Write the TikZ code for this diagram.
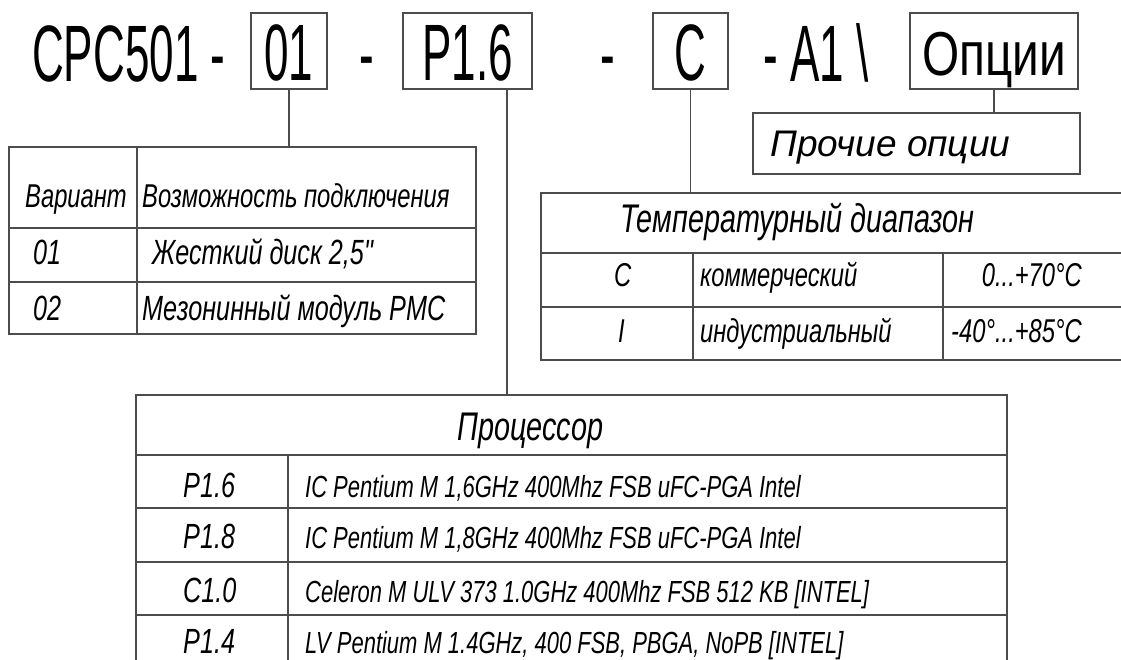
\documentclass[tikz,border=0pt]{standalone}
\usepackage{fontspec}
\setmainfont{Liberation Sans}
\newfontfamily\titlefont[FakeStretch=0.55]{Liberation Sans}
\newfontfamily\optfont[FakeStretch=0.77]{Liberation Sans}
\newfontfamily\narrowfont[FakeStretch=0.72]{Liberation Sans}

\begin{document}
\begin{tikzpicture}[
  x=1pt,y=-1pt,
  frame/.style={draw=black!70,line width=1.2pt},
  divider/.style={draw=black!70,line width=1.2pt},
  codebox/.style={frame,minimum width=#1,minimum height=76pt,inner xsep=0pt,
                  inner ysep=8pt,text height=60pt,text depth=0pt,
                  font=\titlefont\fontsize{80}{80}\selectfont},
  headtext/.style={anchor=base west,inner sep=0pt,
                   font=\titlefont\fontsize{80}{80}\selectfont},
  tab/.style={frame,inner sep=0pt},
  cell/.style={anchor=base west,inner sep=0pt,
               font=\narrowfont\itshape\fontsize{#1}{#1}\selectfont},
  cellr/.style={cell=#1,anchor=base east},
]
\useasboundingbox (0,0) rectangle (1121,660);

% ---- order code line ----
\node[headtext] (cpc) at (32,82) {CPC501 -};
\node[codebox=76pt] (b01) at (289,51) {01};
\node[headtext] (d1) at (359,82) {-};
\node[codebox=129pt] (bp16) at (467.5,51) {P1.6};
\node[headtext] (d2) at (600,82) {-};
\node[codebox=75pt] (bc) at (690.5,51) {C};
\node[headtext] (a1) at (763,82) {- A1 \textbackslash};
\node[codebox=168pt,text height=55pt,text depth=5pt,
      font=\optfont\fontsize{62}{62}\selectfont] (bopt) at (994,51) {Опции};

% ---- other options ----
\node[tab,minimum width=327pt,minimum height=61pt] (other) at (916.5,143.5) {};
\node[anchor=base west,inner sep=0pt,font=\itshape\fontsize{37}{37}\selectfont]
     (othertxt) at (770,157) {Прочие опции};

% ---- variant table ----
\node[tab,minimum width=467pt,minimum height=187pt] (tvar) at (242.5,240.5) {};
\draw[divider] (9,228) -- (476,228) (9,282) -- (476,282) (137,147) -- (137,334);
\node[cell=33] (vh1) at (25,208) {Вариант};
\node[cell=33] (vh2) at (142,208) {Возможность подключения};
\node[cell=35] (v1) at (33,265) {01};
\node[cell=35] (v1t) at (152,265) {Жесткий диск 2,5"};
\node[cell=35] (v2) at (33,320) {02};
\node[cell=35] (v2t) at (142,320) {Мезонинный модуль PMC};

% ---- temperature table ----
\node[tab,minimum width=584pt,minimum height=167pt] (ttemp) at (833,276.5) {};
\draw[divider] (541,253) -- (1125,253) (541,307) -- (1125,307)
               (693,253) -- (693,360) (943,253) -- (943,360);
\node[cell=40] (th) at (620,233) {Температурный диапазон};
\node[cell=33] (tc) at (614,287) {C};
\node[cell=33] (tct) at (700,287) {коммерческий};
\node[cellr=33] (tcr) at (1082,287) {0...+70°C};
\node[cell=33] (ti) at (618,342) {I};
\node[cell=33] (tit) at (700,342) {индустриальный};
\node[cellr=33] (tir) at (1082,342) {-40°...+85°C};

% ---- processor table ----
\node[tab,minimum width=871pt,minimum height=273pt] (tproc) at (571.5,531.5) {};
\draw[divider] (136,455) -- (1007,455) (136,508) -- (1007,508)
               (136,562) -- (1007,562) (136,615) -- (1007,615)
               (288,455) -- (288,668);
\node[cell=40] (ph) at (457,440) {Процессор};
\node[cell=35] (p1) at (183,497) {P1.6};
\node[cell=30.5] (p1t) at (305,497) {IC Pentium M 1,6GHz 400Mhz FSB uFC-PGA Intel};
\node[cell=35] (p2) at (183,548) {P1.8};
\node[cell=30.5] (p2t) at (305,548) {IC Pentium M 1,8GHz 400Mhz FSB uFC-PGA Intel};
\node[cell=35] (p3) at (183,602) {C1.0};
\node[cell=30.5] (p3t) at (305,602) {Celeron M ULV 373 1.0GHz 400Mhz FSB 512 KB [INTEL]};
\node[cell=35] (p4) at (183,653) {P1.4};
\node[cell=30.5] (p4t) at (305,653) {LV Pentium M 1.4GHz, 400 FSB, PBGA, NoPB [INTEL]};

% ---- leaders from code fields to their tables ----
\draw[frame] (b01.south) -- (b01.south |- tvar.north);
\coordinate (pdrop) at ([xshift=39.5pt]bp16.south);
\draw[frame] (pdrop) -- (pdrop |- tproc.north);
\draw[frame] (bc.south) -- (bc.south |- ttemp.north);
\draw[frame] (bopt.south) -- (bopt.south |- other.north);

\end{tikzpicture}
\end{document}
